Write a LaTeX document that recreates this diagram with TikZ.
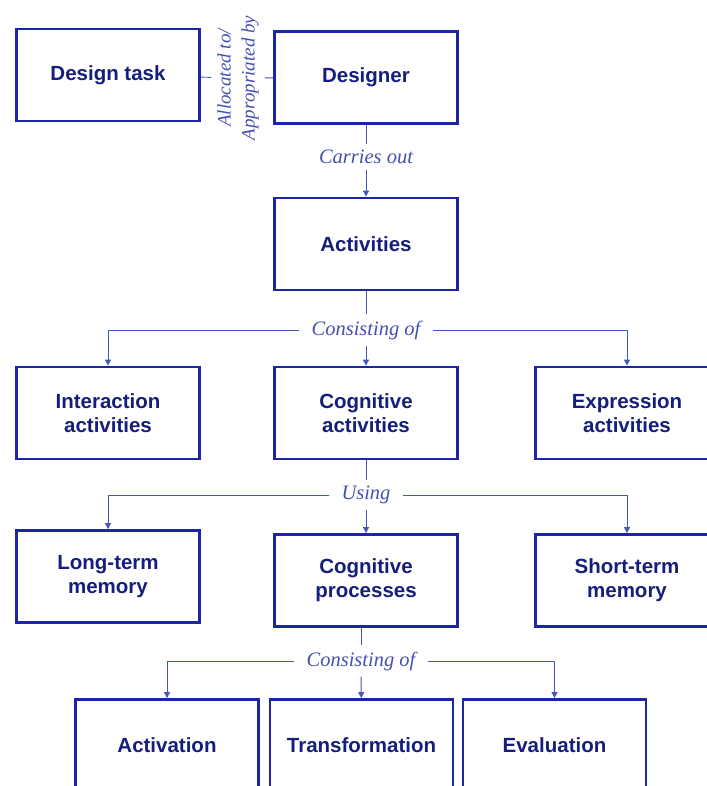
\documentclass[tikz,border=0pt]{standalone}
\usepackage{fontspec}
\setmainfont{Liberation Serif}
\newfontfamily\boxfont{Liberation Sans}
\usepackage{tikz}
\usetikzlibrary{arrows.meta,positioning}

\definecolor{boxblue}{RGB}{28,38,165}
\definecolor{lineblue}{RGB}{70,85,185}
\definecolor{txtblue}{RGB}{22,30,125}
\definecolor{lblblue}{RGB}{70,80,175}

\begin{document}
\begin{tikzpicture}[x=1pt,y=-1pt,
	box/.style={draw=boxblue, line width=2.8pt, fill=white, text=txtblue, align=center,
		font=\boxfont\bfseries\fontsize{20.5}{24}\selectfont,
		minimum width=183pt, minimum height=92pt, inner sep=0pt},
	lbl/.style={fill=white, text=lblblue, font=\itshape\fontsize{20.5}{24}\selectfont,
		inner xsep=12pt, inner ysep=6pt},
	link/.style={draw=lineblue, line width=0.9pt},
	arr/.style={link, -{Triangle[length=6pt,width=6pt]}}]
			\useasboundingbox (0,0) rectangle (706,786);
			% boxes
			\node[box] (task) at (108,75) {Design task};
			\node[box] (designer) at (366,77.5) {Designer};
			\node[box] (activities) at (366,244) {Activities};
			\node[box] (interaction) at (108,413) {Interaction\\activities};
			\node[box] (cogact) at (366,413) {Cognitive\\activities};
			\node[box] (expression) at (627,413) {Expression\\activities};
			\node[box] (longterm) at (108,576.5) {Long-term\\memory};
			\node[box] (cogproc) at (366,580.5) {Cognitive\\processes};
			\node[box] (shortterm) at (627,580.5) {Short-term\\memory};
			\node[box] (activation) at (167,745.5) {Activation};
			\node[box] (transformation) at (361.5,745.5) {Transformation};
			\node[box] (evaluation) at (554.5,745.5) {Evaluation};
			% labels on the links
			\node[lbl, rotate=90, align=center, inner xsep=6pt, font=\itshape\fontsize{19}{24}\selectfont] (alloc) at (238,78) {Allocated to/\\Appropriated by};
			\node[lbl] (carries) at (366,157) {Carries out};
			\node[lbl] (consist1) at (366,330) {Consisting of};
			\node[lbl] (using) at (366,495) {Using};
			\node[lbl] (consist2) at (361,661) {Consisting of};
			% links
			\draw[link] (task) -- (alloc);
			\draw[link] (alloc) -- (designer);
			\draw[link] (designer) -- (carries);
			\draw[arr] (carries) -- (activities);
			\draw[link] (activities) -- (consist1);
			\draw[arr] (consist1) -- (cogact);
			\draw[arr] (consist1.west) -| (interaction);
			\draw[arr] (consist1.east) -| (expression);
			\draw[link] (cogact) -- (using);
			\draw[arr] (using) -- (cogproc);
			\draw[arr] (using.west) -| (longterm);
			\draw[arr] (using.east) -| (shortterm);
			\draw[link] (cogproc.south -| consist2) -- (consist2);
			\draw[arr] (consist2) -- (transformation);
			\draw[arr] (consist2.west) -| (activation);
			\draw[arr] (consist2.east) -| (evaluation);
		    \end{tikzpicture}
\end{document}
